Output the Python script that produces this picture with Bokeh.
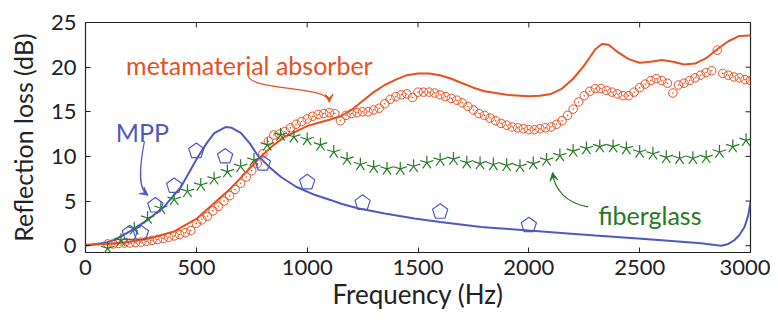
from bokeh.plotting import figure
from bokeh.models import Range1d, FixedTicker, Arrow, VeeHead, ColumnDataSource, Label
from bokeh.embed import file_html
from bokeh.resources import INLINE

# ---------------- data ----------------
x_ticks = [0, 500, 1000, 1500, 2000, 2500, 3000]
y_ticks = [0, 5, 10, 15, 20, 25]
x_lim = (0, 3000)
y_lim = (-0.76, 25)

# metamaterial absorber: simulation (solid line)
meta_sim_f = [0, 100, 200, 300, 400, 500, 600, 650, 700, 750, 800, 850, 900, 1000, 1100, 1150, 1200,
              1250, 1300, 1350, 1400, 1450, 1500, 1550, 1600, 1650, 1700, 1750, 1800, 1900, 2000,
              2050, 2100, 2150, 2200, 2250, 2300, 2330, 2360, 2400, 2450, 2500, 2550, 2600, 2650,
              2700, 2750, 2800, 2850, 2900, 2950, 3000]
meta_sim_v = [0.1, 0.2, 0.45, 0.9, 1.6, 3.0, 5.2, 6.3, 7.6, 8.9, 10.2, 11.3, 12.2, 13.4, 14.1, 14.5, 15.2,
              16.2, 17.2, 18.0, 18.6, 19.1, 19.3, 19.3, 19.1, 18.7, 18.2, 17.7, 17.3, 16.9, 16.75,
              16.8, 17.0, 17.6, 18.7, 20.2, 22.0, 22.6, 22.5, 21.7, 20.9, 20.5, 20.6, 20.8, 20.6,
              20.3, 20.4, 21.0, 22.0, 22.9, 23.5, 23.55]

# metamaterial absorber: measurement (circles)
meta_meas_f = list(range(100, 3001, 25))
meta_meas_v = [0.2, 0.2, 0.25, 0.3, 0.3, 0.35, 0.4, 0.5, 0.6, 0.7, 0.8, 0.95, 1.1, 1.25, 1.45, 1.7,
               2.5, 2.9, 3.3, 3.9, 4.4, 5.0, 5.6, 6.3, 7.0, 7.7, 8.4, 9.2, 10.3, 11.7, 12.4, 12.5,
               12.8, 13.2, 13.6, 13.9, 14.2, 14.5, 14.7, 14.8, 14.9, 14.8, 14.0, 14.6, 14.8, 14.9,
               15.0, 15.0, 15.2, 15.4, 15.9, 16.4, 16.7, 16.9, 17.0, 16.6, 17.2, 17.2, 17.2, 17.1,
               16.9, 16.7, 16.5, 16.3, 16.0, 15.6, 15.2, 14.8, 14.6, 14.3, 14.0, 13.7, 13.5, 13.3,
               13.2, 13.1, 13.0, 13.0, 13.1, 13.2, 13.3, 13.6, 14.0, 14.6, 15.3, 16.1, 16.8, 17.3,
               17.6, 17.6, 17.4, 17.2, 17.0, 16.8, 16.8, 17.2, 17.7, 18.1, 18.5, 18.7, 18.5, 18.2,
               17.1, 18.0, 18.2, 18.5, 18.8, 19.1, 19.4, 19.6, 21.9, 19.3, 19.1, 18.9, 18.8, 18.6,
               18.5]

# MPP: simulation (solid line)
mpp_sim_f = [0, 100, 130, 200, 281, 356, 431, 506, 550, 581, 634, 660, 702, 740, 777, 830, 882, 950,
             1033, 1108, 1153, 1228, 1350, 1484, 1600, 1785, 1875, 2000, 2176, 2300, 2477, 2600,
             2777, 2830, 2868, 2900, 2928, 2950, 2973, 2990, 3000]
mpp_sim_v = [0.0, 0.4, 0.64, 1.6, 2.9, 4.4, 6.6, 9.9, 11.6, 12.6, 13.3, 13.2, 12.6, 11.5, 10.1, 8.8,
             7.7, 6.6, 5.7, 5.1, 4.7, 4.2, 3.6, 3.06, 2.65, 2.1, 1.94, 1.7, 1.38, 1.15, 0.83, 0.6,
             0.27, 0.12, 0.0, 0.2, 0.64, 1.2, 2.1, 3.4, 4.9]

# MPP: measurement (pentagons, third-octave bands)
mpp_meas_f = [200, 250, 315, 400, 500, 630, 800, 1000, 1250, 1600, 2000]
mpp_meas_v = [1.4, 1.4, 4.5, 6.7, 10.6, 10.0, 9.2, 7.1, 4.8, 3.8, 2.3]

# fiberglass: measurement (stars)
fiber_f = list(range(100, 2981, 60))
fiber_v = [-0.3, 0.6, 1.9, 3.1, 4.2, 5.2, 6.1, 6.8, 7.5, 8.3, 8.9, 9.6, 11.3, 12.4, 12.2, 11.9,
           11.3, 10.5, 9.7, 9.1, 8.8, 8.6, 8.6, 8.9, 9.3, 9.6, 9.7, 9.3, 9.2, 9.1, 9.0, 8.9, 9.2,
           9.6, 10.1, 10.6, 10.9, 11.1, 11.1, 10.9, 10.5, 10.3, 9.9, 9.8, 9.8, 9.9, 10.5, 11.1, 11.8]

# ---------------- styling ----------------
FONT = "Lato"
ORANGE = "#e8501e"
BLUE = "#4f58c2"
GREEN = "#247a24"
INK = "#222222"

p = figure(frame_width=665, frame_height=230, output_backend="svg", toolbar_location=None,
           x_range=Range1d(*x_lim), y_range=Range1d(*y_lim),
           min_border_left=85, min_border_right=20, min_border_top=22, min_border_bottom=64,
           x_axis_label="Frequency (Hz)", y_axis_label="Reflection loss (dB)")
p.grid.visible = False
p.outline_line_color = INK
p.outline_line_width = 1.2
p.background_fill_color = "white"
p.border_fill_color = "white"

for ax, ticks in ((p.xaxis[0], x_ticks), (p.yaxis[0], y_ticks)):
    ax.ticker = FixedTicker(ticks=ticks)
    ax.axis_line_color = None
    ax.major_tick_in = 5
    ax.major_tick_out = 0
    ax.major_tick_line_color = INK
    ax.minor_tick_line_color = None
    ax.major_label_text_font = FONT
    ax.major_label_text_font_size = "22px"
    ax.major_label_text_color = INK
    ax.axis_label_text_font = FONT
    ax.axis_label_text_font_size = "25px"
    ax.axis_label_text_font_style = "normal"
    ax.axis_label_text_color = INK
p.xaxis.axis_label_text_font_size = "26px"
p.xaxis.major_label_standoff = 7
p.xaxis.axis_label_standoff = 0
p.yaxis.major_label_standoff = 9
p.yaxis.axis_label_standoff = 10

# mirrored inward tick marks on the top and right frame edges
p.ray(x=x_ticks, y=[y_lim[1]] * len(x_ticks), length=5, length_units="screen",
      angle=-90, angle_units="deg", line_color=INK, line_width=1)
p.ray(x=[x_lim[1]] * len(y_ticks), y=y_ticks, length=5, length_units="screen",
      angle=180, angle_units="deg", line_color=INK, line_width=1)

# lines
p.line(mpp_sim_f, mpp_sim_v, line_color=BLUE, line_width=2)
p.line(meta_sim_f, meta_sim_v, line_color=ORANGE, line_width=2)

# orange circles with centre dots
p.scatter(meta_meas_f, meta_meas_v, marker="circle", size=8.5, fill_color=None,
          line_color=ORANGE, line_width=1)
p.scatter(meta_meas_f, meta_meas_v, marker="circle", size=1.6, fill_color=ORANGE,
          line_color=None)

# green five-spoke stars
fsrc = ColumnDataSource(dict(f=fiber_f, v=fiber_v))
for a in (90, 162, 234, 306, 18):
    p.ray(x="f", y="v", length=7, length_units="screen", angle=a, angle_units="deg",
          line_color=GREEN, line_width=1.2, source=fsrc)

# blue pentagons
p.ngon(x=mpp_meas_f, y=mpp_meas_v, radius=8, radius_units="screen", n=5,
       fill_color=None, line_color=BLUE, line_width=1.2)

# annotations
def label(x, y, text, color):
    p.add_layout(Label(x=x, y=y, text=text, text_font=FONT, text_font_size="25px",
                       text_color=color, text_align="left", text_baseline="alphabetic"))

label(183, 20.2, "metamaterial absorber", ORANGE)
label(137, 12.75, "MPP", BLUE)
label(2313, 3.45, "fiberglass", GREEN)

def curved_arrow(x0, y0, cx0, cy0, cx1, cy1, x1, y1, xs, ys, color):
    p.bezier(x0=[x0], y0=[y0], cx0=[cx0], cy0=[cy0], cx1=[cx1], cy1=[cy1], x1=[x1], y1=[y1],
             line_color=color, line_width=1.2)
    p.add_layout(Arrow(x_start=xs, y_start=ys, x_end=x1, y_end=y1, line_alpha=0,
                       end=VeeHead(size=8, line_color=color, fill_color=color, line_width=1)))

curved_arrow(732, 19.26, 729, 17.17, 1099, 18.07, 1100, 16.08, 1099.5, 16.6, ORANGE)
curved_arrow(266, 11.7, 246, 9.15, 232, 6.36, 282, 5.66, 269, 5.9, BLUE)
curved_arrow(2268, 4.36, 2168, 4.77, 2114, 6.33, 2107, 8.18, 2111, 7.6, GREEN)

open("out.html", "w").write(file_html(p, INLINE))
